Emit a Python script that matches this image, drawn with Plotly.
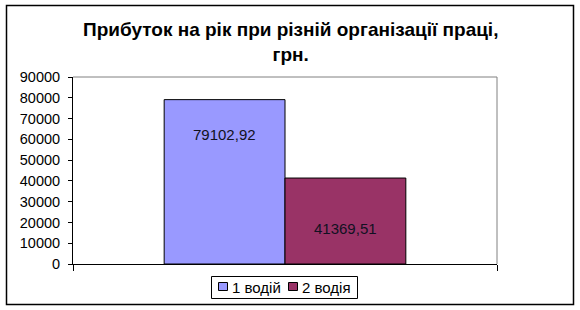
import plotly.graph_objects as go

categories = [""]
series_names = ["1 водій", "2 водія"]
series_values = [79102.92, 41369.51]
value_labels = ["79102,92", "41369,51"]
colors = ["#9999FF", "#993366"]
title_text = "Прибуток на рік при різній організації праці,<br>грн."

W, H = 580, 310
L, R, T, B = 73, 497, 77, 264
bargap = 0.43
label_frac = [0.785, 0.41]

FONT = "Liberation Sans, Arial, sans-serif"

fig = go.Figure()
for name, val, col in zip(series_names, series_values, colors):
    fig.add_trace(go.Bar(
        x=categories, y=[val], name=name, showlegend=False,
        marker=dict(color=col, line=dict(color="black", width=1)),
    ))

bw = (1 - bargap) / len(series_values)
for i, (val, lab) in enumerate(zip(series_values, value_labels)):
    xc = -(1 - bargap) / 2 + bw * (i + 0.5)
    fig.add_annotation(x=xc, y=val * label_frac[i], text=lab, showarrow=False,
                       font=dict(size=15, color="#111122", family=FONT),
                       xref="x", yref="y")

def px2paper_x(p):
    return (p - L) / (R - L)

def px2paper_y(p):
    return (B - p) / (B - T)

# outer border
fig.add_shape(type="rect", xref="paper", yref="paper",
              x0=px2paper_x(6.5), x1=px2paper_x(573.5),
              y0=px2paper_y(304.5), y1=px2paper_y(5.5),
              line=dict(color="black", width=1.5), fillcolor="rgba(0,0,0,0)", layer="below")
# gray plot-area border (top and right)
fig.add_shape(type="line", xref="paper", yref="paper", x0=0, x1=1, y0=1, y1=1,
              line=dict(color="#808080", width=1))
fig.add_shape(type="line", xref="paper", yref="paper", x0=1, x1=1, y0=0, y1=1,
              line=dict(color="#808080", width=1))

# title
fig.add_annotation(text="<b>" + title_text + "</b>", xref="paper", yref="paper",
                   x=px2paper_x(290), xanchor="center",
                   y=px2paper_y(17), yanchor="top", showarrow=False,
                   font=dict(size=19, family=FONT, color="black"))

# legend (box, swatches, labels)
fig.add_shape(type="rect", xref="paper", yref="paper",
              x0=px2paper_x(211.5), x1=px2paper_x(357.5),
              y0=px2paper_y(298.5), y1=px2paper_y(276.5),
              line=dict(color="black", width=1), fillcolor="white")
legend_sw_x = [218, 288]
legend_tx_x = [230, 300]
for name, col, sx, tx in zip(series_names, colors, legend_sw_x, legend_tx_x):
    fig.add_shape(type="rect", xref="paper", yref="paper",
                  x0=px2paper_x(sx + 0.5), x1=px2paper_x(sx + 9.5),
                  y0=px2paper_y(290.5), y1=px2paper_y(282.5),
                  line=dict(color="black", width=1), fillcolor=col)
    fig.add_annotation(text=name, xref="paper", yref="paper",
                       x=px2paper_x(tx), xanchor="left",
                       y=px2paper_y(287), yanchor="middle", showarrow=False,
                       font=dict(size=15, family=FONT, color="black"))

fig.update_layout(
    width=W, height=H,
    margin=dict(l=L, r=W - R, t=T, b=H - B, pad=0, autoexpand=False),
    paper_bgcolor="white", plot_bgcolor="white",
    barmode="group", bargap=bargap, bargroupgap=0,
    font=dict(family=FONT, size=14, color="black"),
    showlegend=False,
    xaxis=dict(showticklabels=False, showgrid=False, zeroline=False,
               showline=True, linecolor="black", linewidth=1,
               ticks="outside", tickson="boundaries", ticklen=6, tickcolor="black",
               range=[-0.5, 0.5], fixedrange=True),
    yaxis=dict(range=[0, 90000], dtick=10000, showgrid=False, zeroline=False,
               showline=True, linecolor="black", linewidth=1,
               ticks="outside", ticklen=4, tickcolor="black",
               tickformat="d", tickfont=dict(size=14.5, family=FONT),
               ticklabelstandoff=5, fixedrange=True),
)

fig.write_html("out.html")
